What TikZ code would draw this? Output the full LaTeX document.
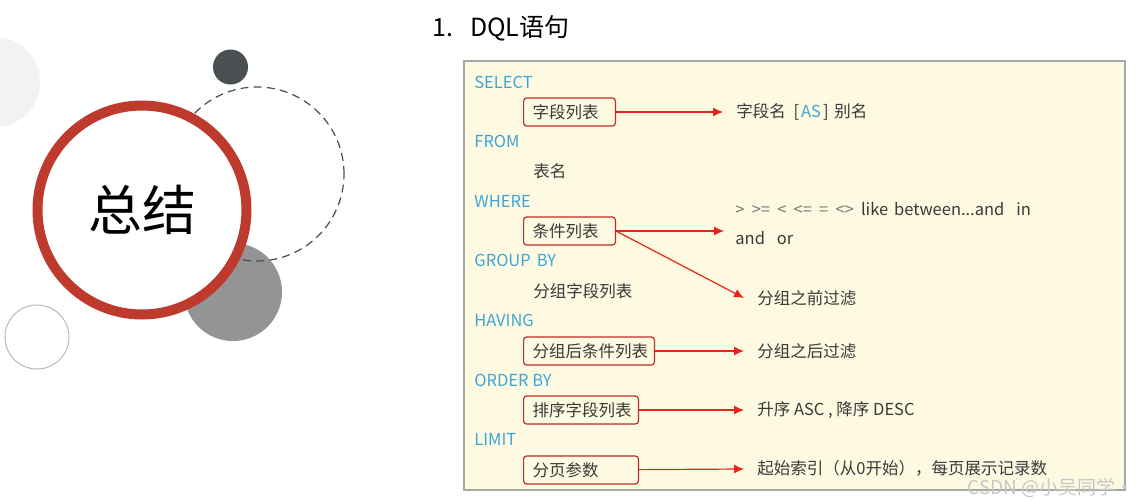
\documentclass[tikz,border=0pt]{standalone}
\usepackage{fontspec}
\setmainfont{Noto Sans CJK SC}
\usepackage{tikz}
\usetikzlibrary{arrows.meta, positioning}
\definecolor{sqlblue}{HTML}{3EA6D6}
\definecolor{boxred}{HTML}{B8302A}
\definecolor{arrred}{HTML}{E8231E}
\definecolor{ringred}{HTML}{BE3A2C}
\definecolor{panel}{HTML}{FEF9E1}
\definecolor{txtgray}{HTML}{3A3A3A}
\definecolor{opgray}{HTML}{7A7A7A}
\definecolor{dotdark}{HTML}{4A4F51}
\tikzset{%
    kwsty/.style={
        anchor=west,
        inner sep=0pt,
        text=sqlblue,
        font=\fontsize{8.25}{10}\selectfont,
    },
    txtsty/.style={
        anchor=west,
        inner sep=0pt,
        text=txtgray,
        font=\fontsize{8.25}{10}\selectfont,
    },
    itemsty/.style={
        draw=boxred,
        rounded corners=1.5pt,
        line width=0.6pt,
        anchor=west,
        align=left,
        inner xsep=2.5pt,
        inner ysep=0pt,
        minimum height=14pt,
        text width=#1,
        text=txtgray,
        font=\fontsize{8.25}{10}\selectfont,
    },
    arrsty/.style={
        draw=arrred,
        line width=0.6pt,
        -{Latex[length=5pt,width=4.5pt]},
    },
}
\newcommand{\opgap}{\hspace{3.6pt}}

\begin{document}
\begin{tikzpicture}[x=0.5pt,y=-0.5pt]
\useasboundingbox (0,0) rectangle (1139,503);

% decoration circles
\fill[black!5] (-5,82) circle (22.5pt);
\draw[black!28, line width=0.5pt] (37,337) circle (16pt);
\fill[dotdark] (230.5,67) circle (8.75pt);
\fill[black!42] (233,292) circle (24.5pt);
\draw[black!70, line width=0.6pt, dash pattern=on 4pt off 2.6pt] (257,174) circle (43.5pt);
\draw[ringred, line width=5pt, fill=white] (142,210) circle (52.25pt);
\node (summary) at (142,210) [font=\fontsize{27}{30}\selectfont] {总结};

% title and panel
\node (title) at (432,28) [txtsty, text=black, font=\fontsize{12.5}{14}\selectfont] {1.\hspace{8.5pt}DQL语句};
\filldraw[fill=panel, draw=black!35, line width=0.6pt] (464,61) rectangle (1125,490);

% keywords
\node (kwselect) at (474,82) [kwsty] {SELECT};
\node (kwfrom) at (474,141) [kwsty] {FROM};
\node (kwwhere) at (474,201) [kwsty] {WHERE};
\node (kwgroup) at (474,260) [kwsty] {GROUP\hspace{3pt}BY};
\node (kwhaving) at (474,320) [kwsty] {HAVING};
\node (kworder) at (474,380) [kwsty] {ORDER BY};
\node (kwlimit) at (474,439) [kwsty] {LIMIT};

% clause items
\node (fields) at (523,112) [itemsty=40.9pt] {\hspace*{2pt}字段列表};
\node (tname) at (533,171) [txtsty] {表名};
\node (cond) at (523,231) [itemsty=40.9pt] {\hspace*{2pt}条件列表};
\node (gfields) at (533,291) [txtsty] {分组字段列表};
\node (hcond) at (523,351) [itemsty=60.4pt] {\hspace*{2pt}分组后条件列表};
\node (ofields) at (523,410) [itemsty=52.4pt] {\hspace*{2pt}排序字段列表};
\node (paging) at (523,470) [itemsty=52.4pt] {\hspace*{2pt}分页参数};

% explanations
\node (alias) at (736,112) [txtsty] {字段名\hspace{2pt} [\hspace{1pt}\textcolor{sqlblue}{AS}\hspace{1pt}] \hspace{1pt}别名};
\node (ops) at (735,209) [txtsty] {\textcolor{opgray}{>\opgap>=\opgap<\opgap<=\opgap=\opgap<>}\opgap like\hspace{3pt}between...and\hspace{6pt}in};
\node (andor) at (735,238) [txtsty] {and\hspace{6pt}or};
\coordinate (condtip) at (724,231);
\node (before) at (757,298) [txtsty] {分组之前过滤};
\node (after) at (757,351) [txtsty] {分组之后过滤};
\node (order) at (757,410) [txtsty] {升序 ASC , 降序 DESC};
\node (limit) at (757,468) [txtsty] {起始索引（从0开始），每页展示记录数};

\node (mark) at (1135,488) [anchor=east, inner sep=0pt, text=black!22, font=\fontsize{9.5}{11}\selectfont] {CSDN @小吴同学·};

% arrows
\draw[arrsty, shorten >=6.5pt] (fields) -- (alias);
\draw[arrsty] (cond.east) -- (condtip);
\draw[arrsty] (cond.east) -- ([xshift=-6.5pt]before.west);
\draw[arrsty, shorten >=6.5pt] (hcond) -- (after);
\draw[arrsty, shorten >=6.5pt] (ofields) -- (order);
\draw[arrsty, shorten >=6.5pt] (paging) -- (limit);

\end{tikzpicture}
\end{document}
